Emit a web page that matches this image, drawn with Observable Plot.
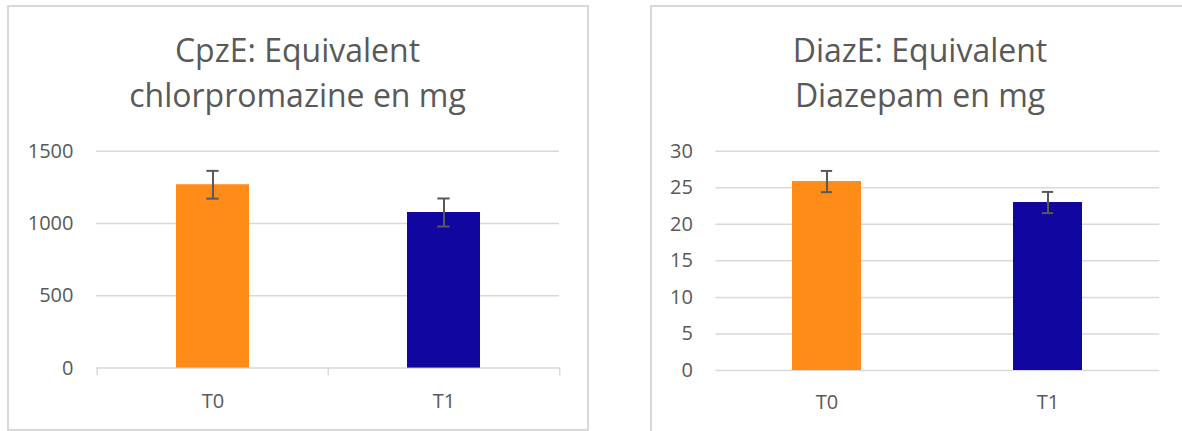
<!DOCTYPE html>
<html><head><meta charset="utf-8">
<script src="https://cdn.jsdelivr.net/npm/d3@7"></script>
<script src="https://cdn.jsdelivr.net/npm/@observablehq/plot@0.6"></script>
<style>
html,body{margin:0;padding:0;background:#fff;}
body{width:1182px;height:431px;overflow:hidden;position:relative;font-family:"Open Sans",sans-serif;color:#595959;}
.panel{position:absolute;box-sizing:border-box;border:2px solid #d9d9d9;}
.title{position:absolute;text-align:center;font-size:32px;line-height:45px;color:#595959;white-space:nowrap;}
.title span{display:block;}
.chart{position:absolute;}
</style></head><body>
<div class="panel" style="left:7px;top:5px;width:582px;height:426px"></div>
<div class="panel" style="left:650px;top:5px;width:600px;height:500px"></div>
<div class="title" id="t1" style="left:0;top:27px;width:595px"></div>
<div class="title" id="t2" style="left:650px;top:27px;width:540px"></div>
<div class="chart" id="c1" style="left:0;top:120px"></div>
<div class="chart" id="c2" style="left:600px;top:120px"></div>
<script>
const categories = ["T0", "T1"];
const barColors = ["#FF8B18", "#11069F"];

const cpzTitle = ["CpzE: Equivalent", "chlorpromazine en mg"];
const cpzValues = [1268, 1076];
const cpzErrors = [96, 97];
const cpzTicks = [0, 500, 1000, 1500];

const diazTitle = ["DiazE: Equivalent", "Diazepam en mg"];
const diazValues = [25.85, 22.98];
const diazErrors = [1.45, 1.45];
const diazTicks = [0, 5, 10, 15, 20, 25, 30];

function setTitle(id, lines) {
  const el = document.getElementById(id);
  lines.forEach(t => { const s = document.createElement("span"); s.textContent = t; el.appendChild(s); });
}

function makeChart(o) {
  const data = categories.map((c, i) => ({cat: c, value: o.values[i], err: o.errors[i]}));
  const pad = 0.686;
  const step = (o.width - o.marginLeft - o.marginRight) / categories.length;
  const bw = step * (1 - pad);
  const capW = 12;
  const inset = (bw - capW) / 2;
  const marks = [
    Plot.ruleY(o.gridTicks, {y: d => d, stroke: "#d9d9d9", strokeWidth: 1.5}),
  ];
  if (o.axisLine) {
    marks.push(Plot.ruleY([0], {y: d => d, stroke: "#d9d9d9", strokeWidth: 1.5}));
    marks.push(Plot.ruleX(categories, {x: d => d, y1: 0, y2: 0, insetBottom: -8, dx: -step / 2, stroke: "#d9d9d9", strokeWidth: 1.5}));
    marks.push(Plot.ruleX(categories.slice(-1), {x: d => d, y1: 0, y2: 0, insetBottom: -8, dx: step / 2, stroke: "#d9d9d9", strokeWidth: 1.5}));
  }
  marks.push(
    Plot.barY(data, {x: "cat", y: "value", fill: "cat"}),
    Plot.ruleX(data, {x: "cat", y1: d => d.value - d.err, y2: d => d.value + d.err, stroke: "#595959", strokeWidth: 2}),
    Plot.tickY(data, {x: "cat", y: d => d.value + d.err, insetLeft: inset, insetRight: inset, stroke: "#595959", strokeWidth: 2}),
    Plot.tickY(data, {x: "cat", y: d => d.value - d.err, insetLeft: inset, insetRight: inset, stroke: "#595959", strokeWidth: 2}),
    Plot.axisY(o.ticks, {tickSize: 0, tickPadding: 23, label: null, tickFormat: d => String(d), fontSize: 20, fill: "#595959"}),
    Plot.axisX({tickSize: 0, tickPadding: o.xPad, label: null, fontSize: 20, fill: "#595959"})
  );
  return Plot.plot({
    width: o.width, height: o.height,
    marginLeft: o.marginLeft, marginRight: o.marginRight,
    marginTop: o.marginTop, marginBottom: o.marginBottom,
    style: {fontFamily: "'Open Sans', sans-serif", fontSize: "20px", color: "#595959", background: "transparent", overflow: "visible"},
    x: {domain: categories, paddingInner: pad, paddingOuter: pad / 2, label: null},
    y: {domain: [0, o.ticks[o.ticks.length - 1]], label: null},
    color: {domain: categories, range: barColors},
    marks
  });
}

setTitle("t1", cpzTitle);
setTitle("t2", diazTitle);

document.getElementById("c1").appendChild(makeChart({
  values: cpzValues, errors: cpzErrors, ticks: cpzTicks, gridTicks: cpzTicks.slice(1),
  width: 600, height: 300, marginLeft: 96, marginRight: 41, marginTop: 30.7, marginBottom: 52.4,
  axisLine: true, xPad: 25.3
}));
document.getElementById("c2").appendChild(makeChart({
  values: diazValues, errors: diazErrors, ticks: diazTicks, gridTicks: diazTicks,
  width: 582, height: 300, marginLeft: 115.4, marginRight: 22.7, marginTop: 30.7, marginBottom: 50,
  axisLine: false, xPad: 24.6
}));
</script>
</body></html>
